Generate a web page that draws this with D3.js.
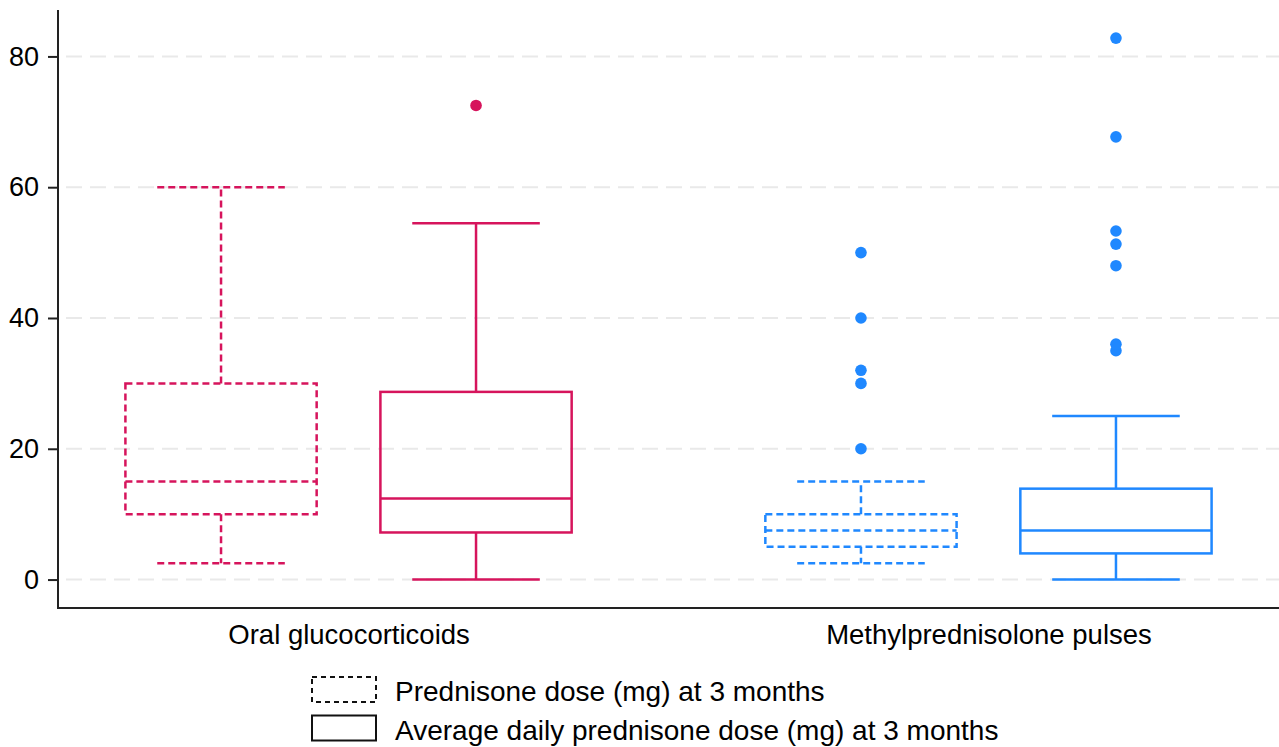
<!DOCTYPE html>
<html>
<head>
<meta charset="utf-8">
<script src="https://cdn.jsdelivr.net/npm/d3@7"></script>
<style>
  html, body { margin: 0; padding: 0; background: #fff; }
  svg { display: block; font-family: "Liberation Sans", Arial, sans-serif; }
</style>
</head>
<body>
<div id="chart"></div>
<script>
// categories and series
var groups = ["Oral glucocorticoids", "Methylprednisolone pulses"];
var series = ["Prednisone dose (mg) at 3 months", "Average daily prednisone dose (mg) at 3 months"];
var groupColors = ["#d6145c", "#1f88ff"];
var yTicks = [0, 20, 40, 60, 80];

// box stats per series, in group order: [min, q1, median, q3, max]
var prednisoneStats = [
	[2.5, 10, 15, 30, 60],
	[2.5, 5, 7.5, 10, 15]
];
var averageStats = [
	[0, 7.2, 12.4, 28.7, 54.5],
	[0, 4, 7.5, 13.9, 25]
];
var prednisoneOutliers = [
	[],
	[20, 30, 32, 40, 50]
];
var averageOutliers = [
	[72.5],
	[35, 36, 48, 51.3, 53.3, 67.7, 82.8]
];

var width = 1279,
	height = 747,
	margin = {top: 10, right: 0, bottom: 139, left: 58},
	fontSize = 27.5;

var svg = d3.select("#chart")
	.append("svg")
	.attr("width", width)
	.attr("height", height);

var y = d3.scaleLinear()
	.domain([-4.35, 87.1])
	.range([height - margin.bottom, margin.top]);

var x0 = d3.scalePoint()
	.domain(groups)
	.range([margin.left, width - margin.right])
	.padding(0.454);

var x1 = d3.scaleBand()
	.domain(series)
	.range([-255, 255]);

// gridlines
svg.append("g")
	.selectAll("line")
	.data(yTicks)
	.join("line")
	.attr("x1", margin.left + 8)
	.attr("x2", width)
	.attr("y1", d => y(d))
	.attr("y2", d => y(d))
	.attr("stroke", "#e9e9e9")
	.attr("stroke-width", 2)
	.attr("stroke-dasharray", "16,8");

// y axis
var yAxis = d3.axisLeft(y)
	.tickValues(yTicks)
	.tickSize(10)
	.tickPadding(9);

var yAxisGroup = svg.append("g")
	.attr("transform", "translate(" + margin.left + ",0)")
	.call(yAxis);

yAxisGroup.select(".domain").remove();
yAxisGroup.selectAll(".tick line").attr("stroke", "#222").attr("stroke-width", 2);
yAxisGroup.selectAll(".tick text")
	.attr("font-size", 27)
	.attr("fill", "#000")
	.attr("font-family", "Liberation Sans, Arial, sans-serif");

// x axis
var xAxis = d3.axisBottom(x0)
	.tickSize(0)
	.tickPadding(16);

var xAxisGroup = svg.append("g")
	.attr("transform", "translate(0," + (height - margin.bottom) + ")")
	.call(xAxis);

xAxisGroup.select(".domain").remove();
xAxisGroup.selectAll(".tick text")
	.attr("font-size", fontSize)
	.attr("fill", "#000")
	.attr("font-family", "Liberation Sans, Arial, sans-serif");

// axis lines
svg.append("path")
	.attr("d", "M" + margin.left + "," + margin.top + "V" + (height - margin.bottom) + "H" + width)
	.attr("fill", "none")
	.attr("stroke", "#222")
	.attr("stroke-width", 2);

function drawBox(stats, outliers, seriesName, dash) {
	var boxWidth = x1.bandwidth() * 0.75;
	var capWidth = boxWidth * 0.667;

	groups.forEach(function(group, i) {
		var s = stats[i];
		var cx = x0(group) + x1(seriesName) + x1.bandwidth() / 2;
		var color = groupColors[i];
		var g = svg.append("g")
			.attr("fill", "none")
			.attr("stroke", color)
			.attr("stroke-width", 2.5)
			.attr("stroke-dasharray", dash);

		// whiskers
		g.append("line")
			.attr("x1", cx).attr("x2", cx)
			.attr("y1", y(s[3])).attr("y2", y(s[4]));
		g.append("line")
			.attr("x1", cx).attr("x2", cx)
			.attr("y1", y(s[1])).attr("y2", y(s[0]));

		// caps
		g.append("line")
			.attr("x1", cx - capWidth / 2).attr("x2", cx + capWidth / 2)
			.attr("y1", y(s[4])).attr("y2", y(s[4]));
		g.append("line")
			.attr("x1", cx - capWidth / 2).attr("x2", cx + capWidth / 2)
			.attr("y1", y(s[0])).attr("y2", y(s[0]));

		// box
		g.append("rect")
			.attr("x", cx - boxWidth / 2)
			.attr("y", y(s[3]))
			.attr("width", boxWidth)
			.attr("height", y(s[1]) - y(s[3]));

		// median
		g.append("line")
			.attr("x1", cx - boxWidth / 2).attr("x2", cx + boxWidth / 2)
			.attr("y1", y(s[2])).attr("y2", y(s[2]));

		// outliers
		svg.append("g")
			.selectAll("circle")
			.data(outliers[i])
			.join("circle")
			.attr("cx", cx)
			.attr("cy", d => y(d))
			.attr("r", 5.8)
			.attr("fill", color);
	});
}

drawBox(prednisoneStats, prednisoneOutliers, series[0], "7,4");
drawBox(averageStats, averageOutliers, series[1], null);

// legend
var legend = svg.append("g")
	.attr("transform", "translate(312,677)");

var legendItems = legend.selectAll("g")
	.data(series)
	.join("g")
	.attr("transform", (d, i) => "translate(0," + (i * 38.5) + ")");

legendItems.append("rect")
	.attr("x", 0)
	.attr("y", 0)
	.attr("width", 64)
	.attr("height", 25)
	.attr("fill", "none")
	.attr("stroke", "#111")
	.attr("stroke-width", 2)
	.attr("stroke-dasharray", (d, i) => i === 0 ? "5,4" : null);

legendItems.append("text")
	.attr("x", 83)
	.attr("y", 24)
	.attr("font-size", 28)
	.attr("fill", "#000")
	.text(d => d);
</script>
</body>
</html>
